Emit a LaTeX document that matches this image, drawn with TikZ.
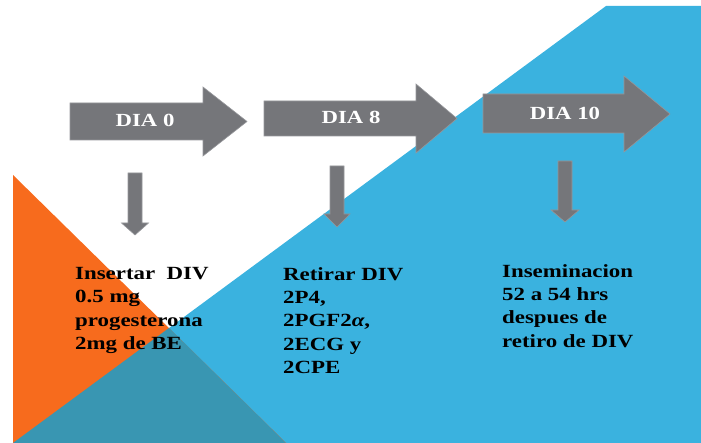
\documentclass[tikz,border=0pt]{standalone}
\usepackage{fontspec}
\setmainfont{Liberation Serif}[FakeStretch=1.23]
\usetikzlibrary{positioning}

\definecolor{azul}{RGB}{58,178,223}
\definecolor{naranja}{RGB}{247,107,29}
\definecolor{verdeazul}{RGB}{57,150,178}
\definecolor{grisflecha}{RGB}{117,118,122}
\definecolor{grisborde}{RGB}{150,151,155}

\tikzset{
  flecha/.style={fill=grisflecha, draw=grisborde, line width=0.6pt},
  etiqueta/.style={anchor=base, inner sep=0pt, text=white,
    font=\bfseries\fontsize{18.5}{18.5}\selectfont},
  texto/.style={anchor=north west, align=left, inner sep=0pt,
    font=\bfseries\fontsize{18.6}{23.4}\selectfont}
}

\begin{document}
\begin{tikzpicture}[x=1pt,y=-1pt]
    \useasboundingbox (0,0) rectangle (701,443);
    % fondo
    \fill[azul] (606,6) -- (701,6) -- (701,443) -- (13,443) -- cycle;
    \fill[naranja] (13,175) -- (286,443) -- (13,443) -- cycle;
    \fill[verdeazul] (169,328) -- (286,443) -- (13,443) -- cycle;
    % flechas de los dias
    \path[flecha] (70,103) -- (203,103) -- (203,87) -- (247,121.5) -- (203,156) -- (203,140) -- (70,140) -- cycle;
    \path[flecha] (264,101) -- (416,101) -- (416,84) -- (457,118.5) -- (416,153) -- (416,136) -- (264,136) -- cycle;
    \path[flecha] (483,94) -- (624,94) -- (624,76) -- (670,114) -- (624,152) -- (624,133) -- (483,133) -- cycle;
    \node[etiqueta] (d0) at (145,127) {DIA 0};
    \node[etiqueta] (d8) at (351,124) {DIA 8};
    \node[etiqueta] (d10) at (565,120) {DIA 10};
    % flechas hacia abajo
    \path[flecha] (128,173) -- (142,173) -- (142,223) -- (148.5,223) -- (135,235) -- (121.5,223) -- (128,223) -- cycle;
    \path[flecha] (330,166) -- (344,166) -- (344,214) -- (350,214) -- (337,227) -- (324,214) -- (330,214) -- cycle;
    \path[flecha] (558,161) -- (572,161) -- (572,210) -- (579,210) -- (565,222) -- (551,210) -- (558,210) -- cycle;
    % textos
    \node[texto] (t0) at (75,267) {Insertar\ \ DIV\\0.5 mg\\progesterona\\2mg de BE};
    \node[texto] (t8) at (283,267) {Retirar DIV\\2P4,\\2PGF2\textit{α},\\2ECG y\\2CPE};
    \node[texto] (t10) at (502,264) {Inseminacion\\52 a 54 hrs\\despues de\\retiro de DIV};
\end{tikzpicture}
\end{document}
